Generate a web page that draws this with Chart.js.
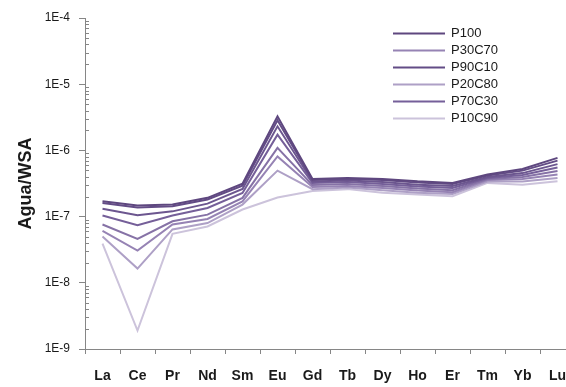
<html>
<head>
<script src="https://cdn.jsdelivr.net/npm/chart.js@4.4.0/dist/chart.umd.min.js"></script>
<style>
  body { margin: 0; overflow: hidden; background: #fff; }
</style>
</head>
<body>
<canvas id="chartCanvas" width="600" height="387"></canvas>
<script>
// REE patterns normalised to WSA
var elements = ['La', 'Ce', 'Pr', 'Nd', 'Sm', 'Eu', 'Gd', 'Tb', 'Dy', 'Ho', 'Er', 'Tm', 'Yb', 'Lu'];

var p100   = [1.70e-7, 1.47e-7, 1.52e-7, 1.92e-7, 3.15e-7, 3.27e-6, 3.71e-7, 3.84e-7, 3.71e-7, 3.41e-7, 3.23e-7, 4.31e-7, 5.25e-7, 7.70e-7];
var p90c10 = [1.60e-7, 1.37e-7, 1.43e-7, 1.81e-7, 2.94e-7, 2.85e-6, 3.56e-7, 3.69e-7, 3.56e-7, 3.26e-7, 3.10e-7, 4.16e-7, 4.95e-7, 7.01e-7];
var p80c20 = [1.31e-7, 1.05e-7, 1.20e-7, 1.57e-7, 2.62e-7, 2.31e-6, 3.38e-7, 3.50e-7, 3.32e-7, 3.04e-7, 2.89e-7, 3.95e-7, 4.54e-7, 6.21e-7];
var p70c30 = [1.04e-7, 7.4e-8, 1.04e-7, 1.35e-7, 2.28e-7, 1.73e-6, 3.21e-7, 3.32e-7, 3.10e-7, 2.84e-7, 2.70e-7, 3.82e-7, 4.24e-7, 5.50e-7];
var p50c50 = [7.6e-8, 4.6e-8, 8.5e-8, 1.07e-7, 1.92e-7, 1.09e-6, 2.99e-7, 3.10e-7, 2.89e-7, 2.65e-7, 2.51e-7, 3.69e-7, 3.95e-7, 4.87e-7];
var p30c70 = [6.1e-8, 3.07e-8, 7.6e-8, 9.2e-8, 1.70e-7, 8.1e-7, 2.79e-7, 2.89e-7, 2.70e-7, 2.47e-7, 2.34e-7, 3.56e-7, 3.69e-7, 4.31e-7];
var p20c80 = [5.0e-8, 1.64e-8, 6.4e-8, 8.0e-8, 1.52e-7, 4.95e-7, 2.60e-7, 2.74e-7, 2.51e-7, 2.30e-7, 2.19e-7, 3.38e-7, 3.38e-7, 3.82e-7];
var p10c90 = [3.9e-8, 1.9e-9, 5.5e-8, 7.1e-8, 1.28e-7, 1.94e-7, 2.43e-7, 2.60e-7, 2.30e-7, 2.15e-7, 2.03e-7, 3.23e-7, 3.04e-7, 3.41e-7];

var yTicks = [1e-9, 1e-8, 1e-7, 1e-6, 1e-5, 1e-4];
var yTickLabels = ['1E-9', '1E-8', '1E-7', '1E-6', '1E-5', '1E-4'];

// only these series appear in the key, in this order
var legendNames = ['P100', 'P30C70', 'P90C10', 'P20C80', 'P70C30', 'P10C90'];

var series = [
    { label: 'P100',   data: p100,   color: 'rgb(94, 71, 127)' },
    { label: 'P90C10', data: p90c10, color: 'rgb(99, 76, 134)' },
    { label: 'P80C20', data: p80c20, color: 'rgb(108, 86, 143)' },
    { label: 'P70C30', data: p70c30, color: 'rgb(117, 95, 153)' },
    { label: 'P50C50', data: p50c50, color: 'rgb(134, 114, 166)' },
    { label: 'P30C70', data: p30c70, color: 'rgb(150, 131, 180)' },
    { label: 'P20C80', data: p20c80, color: 'rgb(174, 160, 198)' },
    { label: 'P10C90', data: p10c90, color: 'rgb(204, 195, 219)' }
];

var axisGray = '#868686';
var textColor = '#1a1a1a';

Chart.defaults.font.family = "'Liberation Sans', Arial, sans-serif";
Chart.defaults.color = textColor;

// small inward ticks between the decades of the log axis
var minorTicks = {
    id: 'minorTicks',
    afterDraw: function(chart) {
        var y = chart.scales.y;
        var ctx = chart.ctx;
        ctx.save();
        ctx.strokeStyle = axisGray;
        ctx.lineWidth = 1;
        for (var d = -9; d < -4; d++) {
            for (var k = 2; k <= 9; k++) {
                var py = Math.round(y.getPixelForValue(k * Math.pow(10, d))) + 0.5;
                ctx.beginPath();
                ctx.moveTo(y.right, py);
                ctx.lineTo(y.right + 4, py);
                ctx.stroke();
            }
        }
        ctx.restore();
    }
};

// key drawn inside the plot, top right
var sideKey = {
    id: 'sideKey',
    afterDraw: function(chart) {
        var ctx = chart.ctx;
        ctx.save();
        ctx.font = "13px 'Liberation Sans', Arial, sans-serif";
        ctx.textBaseline = 'middle';
        ctx.fillStyle = textColor;
        for (var i = 0; i < legendNames.length; i++) {
            var ds = chart.data.datasets.find(function(d) { return d.label === legendNames[i]; });
            var cy = 33.5 + i * 17;
            ctx.strokeStyle = ds.borderColor;
            ctx.lineWidth = 2;
            ctx.beginPath();
            ctx.moveTo(393, cy);
            ctx.lineTo(445, cy);
            ctx.stroke();
            ctx.fillText(ds.label, 451, cy);
        }
        ctx.restore();
    }
};

var ctx = document.getElementById('chartCanvas').getContext('2d');
var chart = new Chart(ctx, {
    type: 'line',
    data: {
        labels: elements,
        datasets: series.map(function(s) {
            return {
                label: s.label,
                data: s.data,
                borderColor: s.color,
                backgroundColor: s.color,
                borderWidth: 2,
                pointRadius: 0,
                tension: 0,
                fill: false
            };
        })
    },
    options: {
        responsive: false,
        animation: false,
        devicePixelRatio: 1,
        layout: { padding: { top: 18, right: 25, left: 0, bottom: 0 } },
        plugins: {
            legend: { display: false },
            tooltip: { enabled: false }
        },
        scales: {
            x: {
                type: 'category',
                offset: true,
                grid: {
                    offset: true,
                    drawOnChartArea: false,
                    tickLength: 5,
                    color: axisGray
                },
                border: { color: axisGray, width: 1 },
                ticks: {
                    padding: 14,
                    maxRotation: 0,
                    autoSkip: false,
                    font: { size: 14, weight: 'bold' },
                    color: textColor
                },
                afterFit: function(scale) { scale.height = 38; }
            },
            y: {
                type: 'logarithmic',
                min: 1e-9,
                max: 1e-4,
                afterBuildTicks: function(scale) {
                    scale.ticks = yTicks.map(function(v) { return { value: v }; });
                },
                grid: {
                    drawOnChartArea: false,
                    tickLength: 6,
                    color: axisGray
                },
                border: { color: axisGray, width: 1 },
                ticks: {
                    padding: 9,
                    font: { size: 12 },
                    color: textColor,
                    callback: function(value, index) { return yTickLabels[index]; }
                },
                title: {
                    display: true,
                    text: 'Agua/WSA',
                    font: { size: 18, weight: 'bold' },
                    color: textColor,
                    padding: { top: 15, bottom: 0 }
                },
                afterFit: function(scale) { scale.width = 85; }
            }
        }
    },
    plugins: [minorTicks, sideKey]
});
</script>
</body>
</html>
